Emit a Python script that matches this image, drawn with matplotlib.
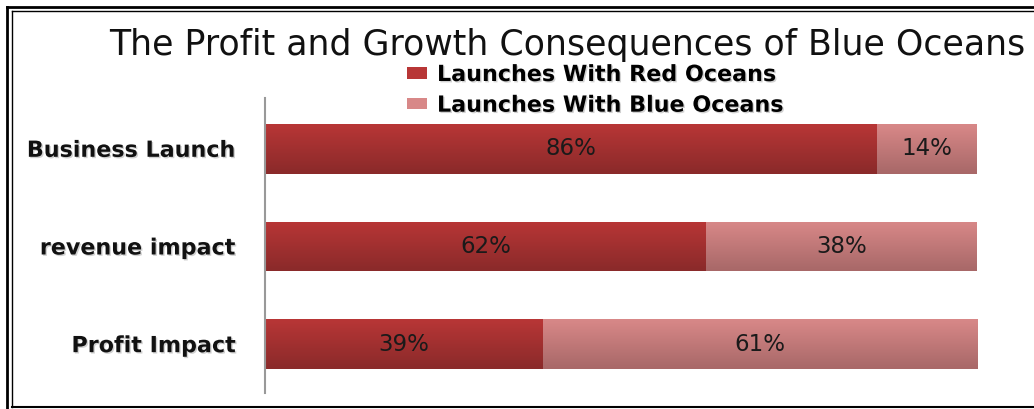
import matplotlib
matplotlib.use("Agg")
import matplotlib.pyplot as plt
import numpy as np
from matplotlib.colors import LinearSegmentedColormap
from matplotlib.lines import Line2D
from matplotlib.patches import Patch
import matplotlib.patheffects as pe

categories = ["Business Launch", "revenue impact", "Profit Impact"]
red_oceans = [86, 62, 39]
blue_oceans = [14, 38, 61]
series_names = ["Launches With Red Oceans", "Launches With Blue Oceans"]
title = "The Profit and Growth Consequences of Blue Oceans"

red_top, red_bot = "#b83636", "#8a2a2a"
pink_top, pink_bot = "#d88888", "#a86868"

plt.rcParams['font.family'] = ['DejaVu Sans']

shadow = [pe.SimplePatchShadow(offset=(1.0, -1.0), shadow_rgbFace="#999999", alpha=0.45), pe.Normal()]

fig = plt.figure(figsize=(10.34, 4.09), dpi=100)
ax = fig.add_axes([265/1034, 1-393/409, (977-265)/1034, (393-98)/409])

y = np.arange(len(categories))
h = 0.51
b1 = ax.barh(y, red_oceans, height=h, color=red_top, edgecolor="none")
b2 = ax.barh(y, blue_oceans, left=red_oceans, height=h, color=pink_top, edgecolor="none")

def grad(bars, c_top, c_bot):
    cmap = LinearSegmentedColormap.from_list("g", [c_top, c_bot])
    g = np.linspace(0, 1, 64).reshape(-1, 1)
    for p in bars:
        x0, y0 = p.get_x(), p.get_y()
        w, hh = p.get_width(), p.get_height()
        im = ax.imshow(g, cmap=cmap, aspect="auto", extent=(x0, x0 + w, y0 + hh, y0),
                       origin="upper", zorder=2)
        im.set_clip_path(p)

grad(b1, red_top, red_bot)
grad(b2, pink_top, pink_bot)

for i in range(len(categories)):
    ax.text(red_oceans[i] / 2, y[i], f"{red_oceans[i]}%", ha="center", va="center",
            fontsize=16.5, color="#1a1a1a", zorder=3)
    ax.text(red_oceans[i] + blue_oceans[i] / 2, y[i], f"{blue_oceans[i]}%", ha="center",
            va="center", fontsize=16.5, color="#1a1a1a", zorder=3)

ax.set_xlim(0, 100)
ax.set_ylim(2.5, -0.52)
ax.set_yticks(y)
ax.set_yticklabels(categories, fontsize=16, fontweight="bold", color="#111111")
for t in ax.get_yticklabels():
    t.set_path_effects(shadow)
ax.tick_params(axis="y", length=0, pad=21)
ax.set_xticks([])
for s in ["top", "right", "bottom"]:
    ax.spines[s].set_visible(False)
ax.spines["left"].set_color("#999999")
ax.spines["left"].set_linewidth(1.5)

fig.text(567/1034, 1-45/409, title, ha="center", va="center", fontsize=25, color="#111111")

handles = [Patch(facecolor=red_top), Patch(facecolor=pink_top)]
leg = fig.legend(handles, series_names, loc="upper left", bbox_to_anchor=(407/1034, 1-65/409),
                 frameon=False, prop={'weight': 'bold', 'size': 16},
                 handlelength=0.9, handleheight=0.4, labelspacing=0.48, handletextpad=0.45,
                 borderpad=0, borderaxespad=0)
for t in leg.get_texts():
    t.set_path_effects(shadow)

# decorative double frame
fig.add_artist(Line2D([7/1034, 1], [1-7/409, 1-7/409], transform=fig.transFigure, color="black", lw=2))
fig.add_artist(Line2D([12/1034, 1], [1-11/409, 1-11/409], transform=fig.transFigure, color="black", lw=1))
fig.add_artist(Line2D([7/1034, 7/1034], [1-7/409, 0], transform=fig.transFigure, color="black", lw=2))
fig.add_artist(Line2D([12/1034, 12/1034], [1-11/409, 1-407/409], transform=fig.transFigure, color="black", lw=1))
fig.add_artist(Line2D([12/1034, 1], [1-407/409, 1-407/409], transform=fig.transFigure, color="black", lw=1.5))

fig.savefig("out.png", dpi=100)
